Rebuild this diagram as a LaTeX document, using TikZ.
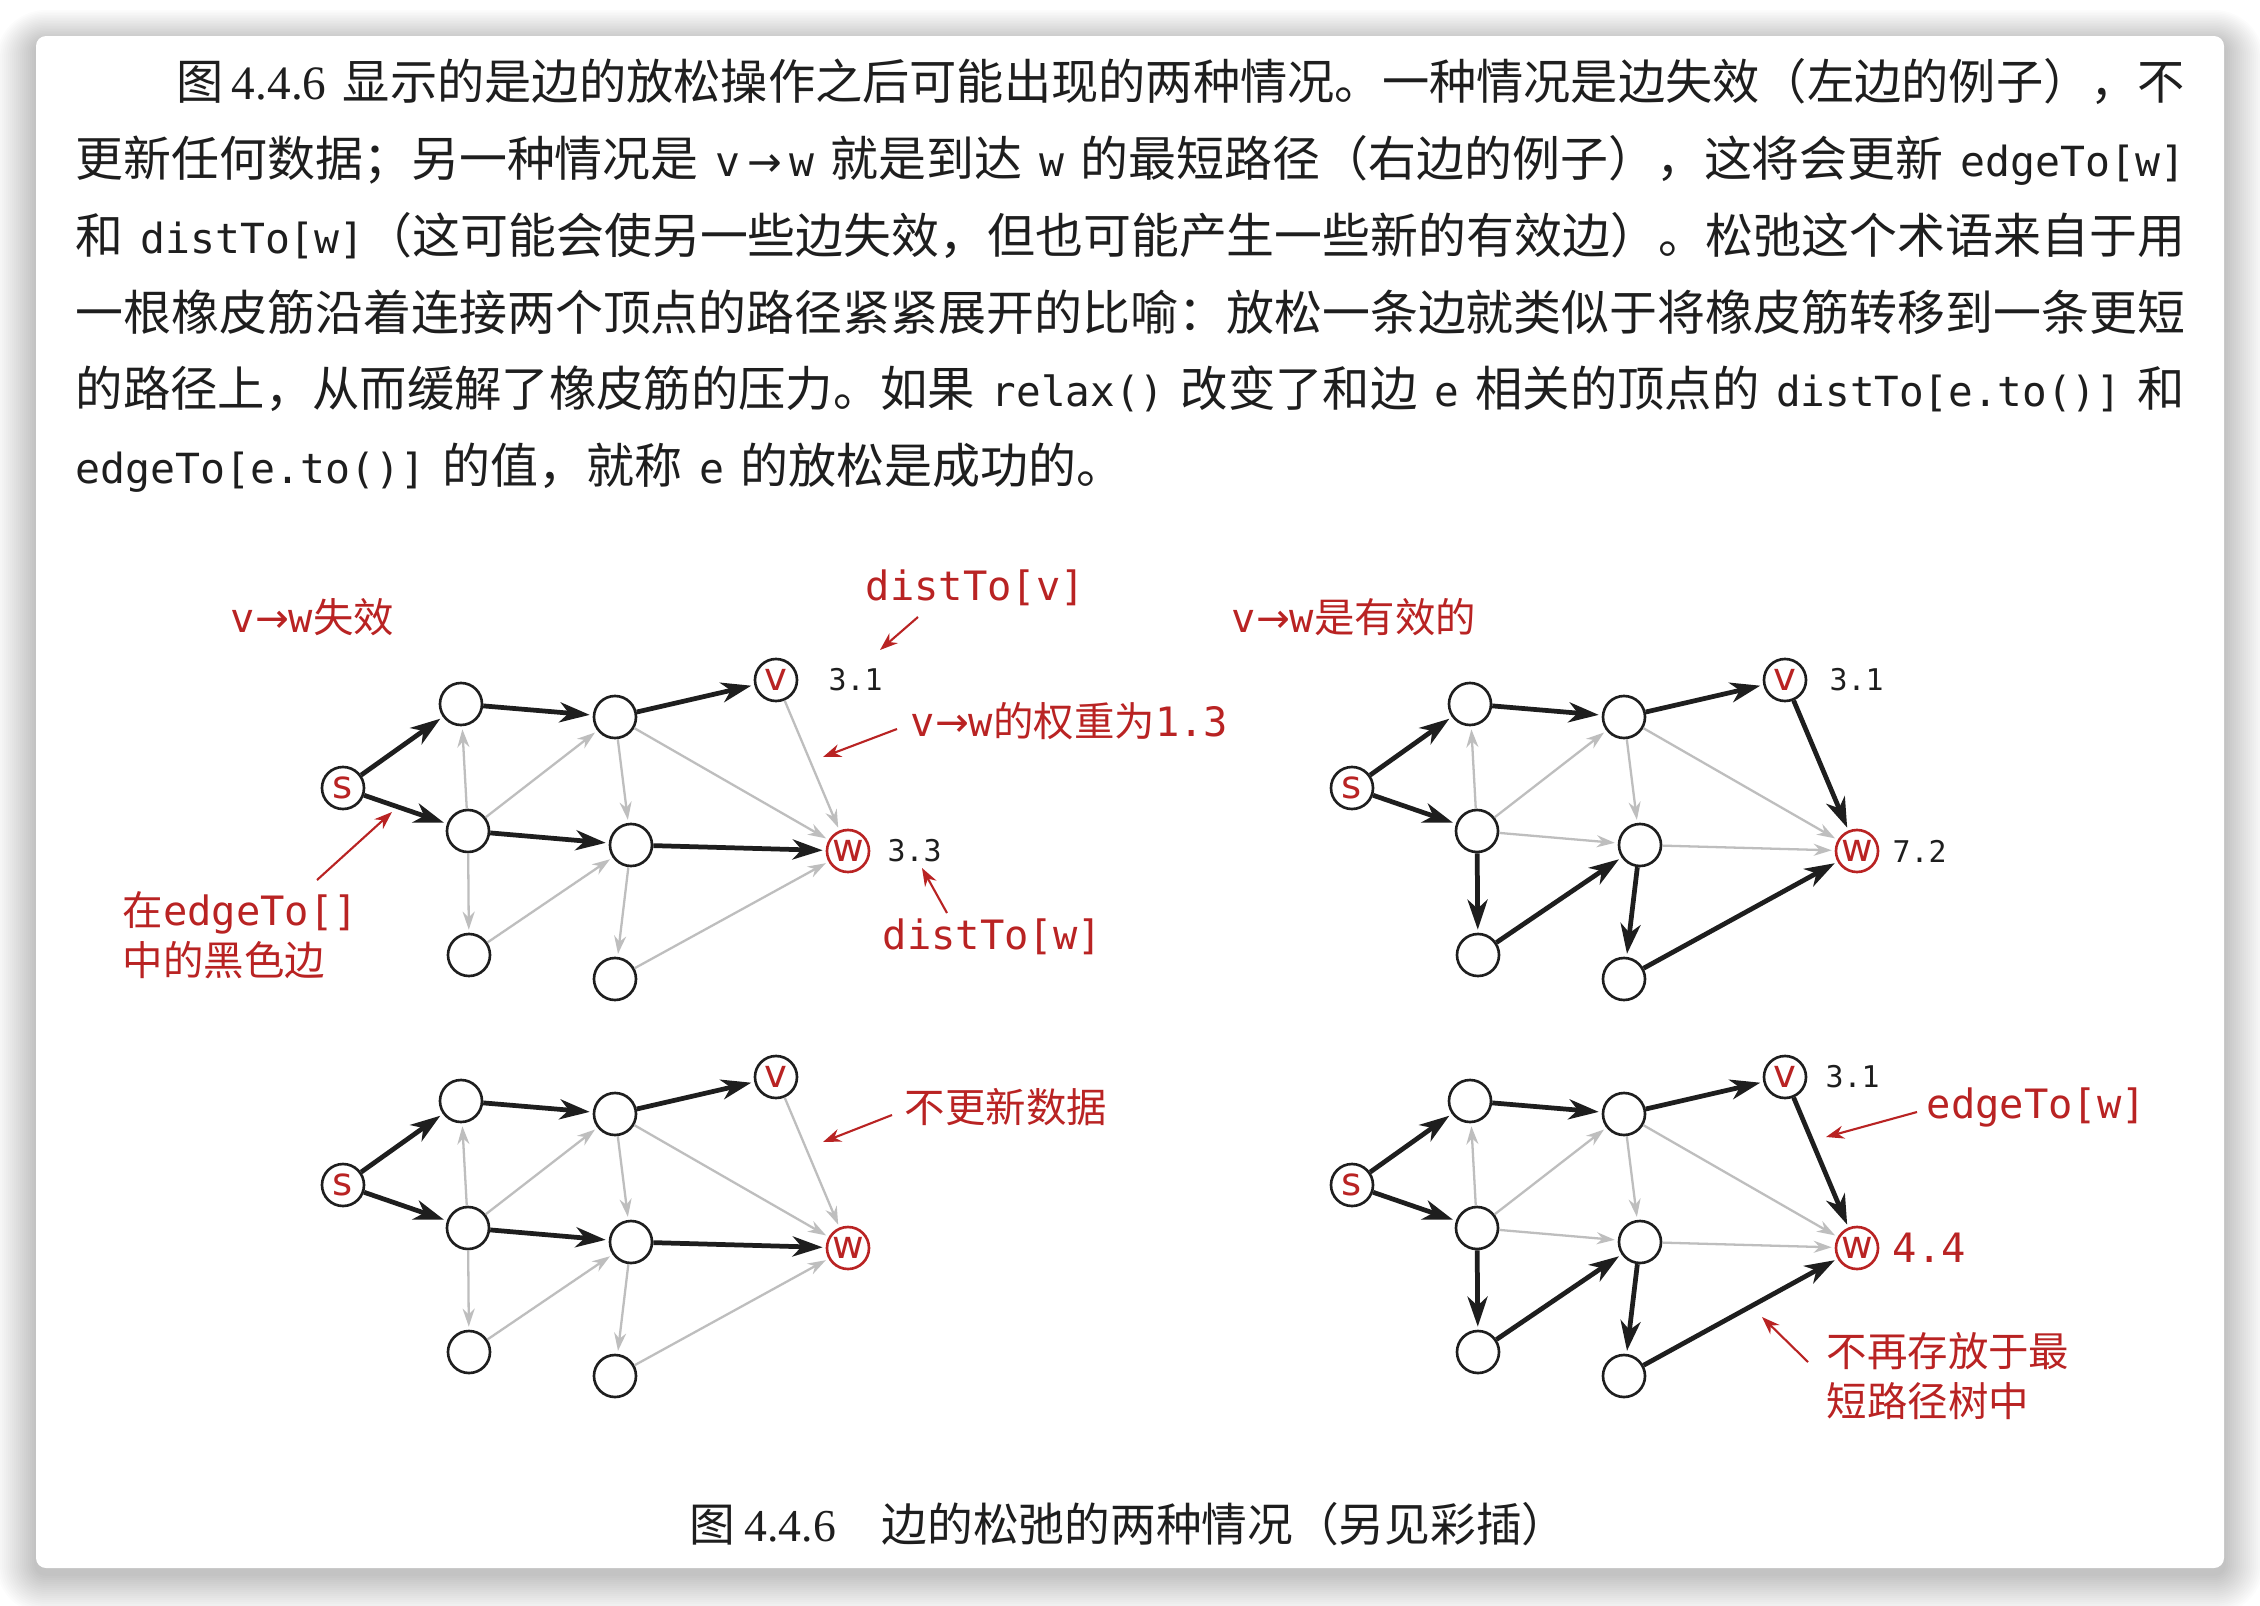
\documentclass[tikz,border=0pt]{standalone}
\usepackage{fontspec}
\usepackage{graphicx}
\setmainfont{Noto Sans CJK SC}
\newfontfamily\codefont{DejaVu Sans Mono}
\newfontfamily\numfont{Liberation Serif}
\newfontfamily\vfont{DejaVu Sans}
\usetikzlibrary{arrows.meta, positioning}
\definecolor{myred}{RGB}{185,35,35}
\definecolor{lgray}{RGB}{190,190,190}
\definecolor{ink}{RGB}{30,30,30}
\newcommand{\cd}[1]{{\codefont\fontsize{11.8pt}{14pt}\selectfont #1}}
\newcommand{\nm}[1]{{\numfont #1}}
\newcommand{\gap}{\hspace{0.35em}}
\newcommand{\vtow}{{\codefont v}{\vfont →}{\codefont w}}
\newcommand{\fitline}[2]{\resizebox{#1}{\height}{#2}}

\begin{document}
\begin{tikzpicture}[x=0.01cm, y=-0.01cm,
  vtx/.style={circle, draw=ink, line width=0.75pt, minimum size=0.42cm, inner sep=0pt, font=\vfont\fontsize{11pt}{11pt}\selectfont},
  tree/.style={draw=ink, line width=1.35pt, shorten >=0.03cm, -{Stealth[length=0.3cm, width=0.2cm, inset=0.09cm]}},
  other/.style={draw=lgray, line width=0.65pt, shorten >=0.03cm, -{Stealth[length=0.18cm, width=0.12cm]}},
  note/.style={draw=myred, line width=0.6pt, -{Stealth[length=0.18cm, width=0.13cm]}},
  lab/.style={font=\fontsize{11.5pt}{14.2pt}\selectfont, text=myred, anchor=west, inner sep=0pt, align=left},
  num/.style={font=\codefont\fontsize{8.5pt}{10pt}\selectfont, text=ink, anchor=west, inner sep=0pt},
  bodytext/.style={font=\fontsize{13.65pt}{21.8pt}\selectfont, text=ink, anchor=base west, inner sep=0pt}]
\useasboundingbox (0,0) rectangle (2260,1606);
\fill[white] (0,0) rectangle (2260,1606);
% card with shadow
\foreach \i [evaluate=\i as \r using 0.1+0.02*\i] in {1,...,20}
  \fill[black, opacity=0.011, rounded corners=\r cm] (36-2*\i,42-1.6*\i) rectangle (2224+2*\i,1574+2*\i);
\fill[white, rounded corners=0.1cm] (36,36) rectangle (2224,1568);

% text above the figure
\node[bodytext] (l1) at (176,100) {\fitline{20.07cm}{图\hspace{0.17em}\nm{4.4.6}\gap 显示的是边的放松操作之后可能出现的两种情况。一种情况是边失效（左边的例子），不}};
\node[bodytext] (l2) at (75,176.7) {\fitline{21.08cm}{更新任何数据；另一种情况是\gap\cd{v\,{\vfont →}\,w}\gap 就是到达\gap\cd{w}\gap 的最短路径（右边的例子），这将会更新\gap\cd{edgeTo[w]}}};
\node[bodytext] (l3) at (75,253.4) {\fitline{21.08cm}{和\gap\cd{distTo[w]}（这可能会使另一些边失效，但也可能产生一些新的有效边）。松弛这个术语来自于用}};
\node[bodytext] (l4) at (75,330.1) {\fitline{21.08cm}{一根橡皮筋沿着连接两个顶点的路径紧紧展开的比喻：放松一条边就类似于将橡皮筋转移到一条更短}};
\node[bodytext] (l5) at (75,406.8) {\fitline{21.08cm}{的路径上，从而缓解了橡皮筋的压力。如果\gap\cd{relax()}\gap 改变了和边\gap\cd{e}\gap 相关的顶点的\gap\cd{distTo[e.to()]}\gap 和}};
\node[bodytext] (l6) at (75,483.5) {\cd{edgeTo[e.to()]}\gap 的值，就称\gap\cd{e}\gap 的放松是成功的。};

% the four graphs
\foreach \g/\dx/\dy in {tl/0/0,tr/1009/0,bl/0/397,br/1009/397}{
  \begin{scope}[shift={(\dx,\dy)}]
    \node[vtx, text=myred] (\g-s) at (343,788) {s};
    \node[vtx] (\g-a) at (461,704) {};
    \node[vtx] (\g-b) at (468,831) {};
    \node[vtx] (\g-c) at (469,955) {};
    \node[vtx] (\g-d) at (615,717) {};
    \node[vtx] (\g-e) at (631,845) {};
    \node[vtx] (\g-f) at (615,979) {};
    \node[vtx, text=myred] (\g-v) at (776,680) {v};
    \node[vtx, draw=myred, text=myred] (\g-w) at (848,851) {w};
  \end{scope}
  \draw[other] (\g-b) -- (\g-a);
  \draw[other] (\g-b) -- (\g-d);
  \draw[other] (\g-d) -- (\g-e);
  \draw[other] (\g-d) -- (\g-w);
  \draw[tree] (\g-s) -- (\g-a);
  \draw[tree] (\g-s) -- (\g-b);
  \draw[tree] (\g-a) -- (\g-d);
  \draw[tree] (\g-d) -- (\g-v);
}
\foreach \g in {tl,bl}{
  \draw[other] (\g-v) -- (\g-w);
  \draw[other] (\g-b) -- (\g-c);
  \draw[other] (\g-c) -- (\g-e);
  \draw[other] (\g-e) -- (\g-f);
  \draw[other] (\g-f) -- (\g-w);
  \draw[tree] (\g-b) -- (\g-e);
  \draw[tree] (\g-e) -- (\g-w);
}
\foreach \g in {tr,br}{
  \draw[other] (\g-b) -- (\g-e);
  \draw[other] (\g-e) -- (\g-w);
  \draw[tree] (\g-v) -- (\g-w);
  \draw[tree] (\g-b) -- (\g-c);
  \draw[tree] (\g-c) -- (\g-e);
  \draw[tree] (\g-e) -- (\g-f);
  \draw[tree] (\g-f) -- (\g-w);
}

% labels, top left
\node[lab] (tl-title) at (230,617) {\vtow 失效};
\node[lab] (tl-dv) at (865,588) {{\codefont distTo[v]}};
\node[num] (tl-nv) at (828,680) {3.1};
\node[lab] (tl-wt) at (910,721) {\vtow 的权重为{\codefont 1.3}};
\node[num] (tl-nw) at (887,851) {3.3};
\node[lab] (tl-dw) at (882,937) {{\codefont distTo[w]}};
\node[lab] (tl-et) at (122,935) {在{\codefont edgeTo[]}\\中的黑色边};
\coordinate (tl-p1) at (918,617); \coordinate (tl-q1) at (880,650);
\coordinate (tl-p2) at (897,729); \coordinate (tl-q2) at (823,757);
\coordinate (tl-p3) at (947,913); \coordinate (tl-q3) at (922,868);
\coordinate (tl-p4) at (317,880); \coordinate (tl-q4) at (392,812);
\draw[note] (tl-p1) -- (tl-q1);
\draw[note] (tl-p2) -- (tl-q2);
\draw[note] (tl-p3) -- (tl-q3);
\draw[note] (tl-p4) -- (tl-q4);

% labels, top right
\node[lab] (tr-title) at (1231,617) {\vtow 是有效的};
\node[num] (tr-nv) at (1829,680) {3.1};
\node[num] (tr-nw) at (1892,851) {7.2};

% labels, bottom left
\node[lab] (bl-no) at (904,1107) {不更新数据};
\coordinate (bl-p1) at (892,1115); \coordinate (bl-q1) at (823,1142);
\draw[note] (bl-p1) -- (bl-q1);

% labels, bottom right
\node[num] (br-nv) at (1825,1077) {3.1};
\node[lab] (br-et) at (1926,1107) {{\codefont edgeTo[w]}};
\node[lab] (br-nw) at (1892,1248) {{\codefont 4.4}};
\node[lab] (br-out) at (1826,1376) {不再存放于最\\短路径树中};
\coordinate (br-p1) at (1917,1112); \coordinate (br-q1) at (1826,1137);
\coordinate (br-p2) at (1808,1362); \coordinate (br-q2) at (1762,1317);
\draw[note] (br-p1) -- (br-q1);
\draw[note] (br-p2) -- (br-q2);

% caption
\node[bodytext, font=\fontsize{13pt}{16pt}\selectfont] (cap) at (689,1541) {图\hspace{0.2em}\nm{4.4.6}　边的松弛的两种情况（另见彩插）};
\end{tikzpicture}
\end{document}
